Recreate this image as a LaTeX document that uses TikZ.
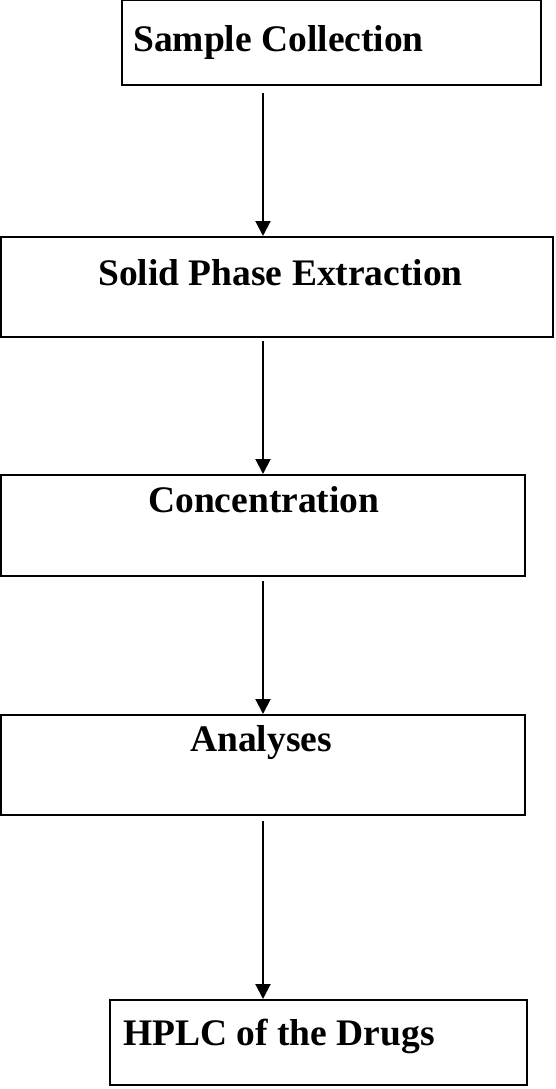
\documentclass[tikz,border=0pt]{standalone}
\usepackage{fontspec}
\setmainfont{Liberation Serif}
\usepackage{tikz}
\usetikzlibrary{arrows.meta, positioning, calc}

\begin{document}
\begin{tikzpicture}[
		x=1pt, y=-1pt,
		stagebox/.style={
				draw,
				line width=2pt,
				inner sep=0pt
			},
		stagetext/.style={
				anchor=base west,
				inner sep=0pt,
				font=\bfseries\fontsize{37.5}{40}\selectfont
			},
		flow/.style={
				line width=2pt,
				-{Triangle[width=15pt, length=15pt]}
			}
	]
	\useasboundingbox (0,0) rectangle (555,1089);

	% boxes (centre, size in px)
	\node[stagebox, minimum width=419, minimum height=85] (sc) at (331.5,43) {};
	\node[stagebox, minimum width=552, minimum height=100] (spe) at (277,287) {};
	\node[stagebox, minimum width=524, minimum height=101] (conc) at (263,525.5) {};
	\node[stagebox, minimum width=524, minimum height=100] (anl) at (263,765) {};
	\node[stagebox, minimum width=417, minimum height=85] (hplc) at (318.5,1042.5) {};

	% texts sit near the top of each box
	\node[stagetext] (scT) at (133,52) {Sample Collection};
	\node[stagetext] (speT) at (98,285) {Solid Phase Extraction};
	\node[stagetext] (concT) at (148,512) {Concentration};
	\node[stagetext] (anlT) at (190,751) {Analyses};
	\node[stagetext] (hplcT) at (123,1045) {HPLC of the Drugs};

	\coordinate (axis) at (263,0);

	\draw[flow] ([yshift=-7pt]sc.south -| axis) -- (spe.north -| axis);
	\draw[flow] ([yshift=-3pt]spe.south -| axis) -- (conc.north -| axis);
	\draw[flow] ([yshift=-4pt]conc.south -| axis) -- (anl.north -| axis);
	\draw[flow] ([yshift=-5pt]anl.south -| axis) -- (hplc.north -| axis);
\end{tikzpicture}
\end{document}
